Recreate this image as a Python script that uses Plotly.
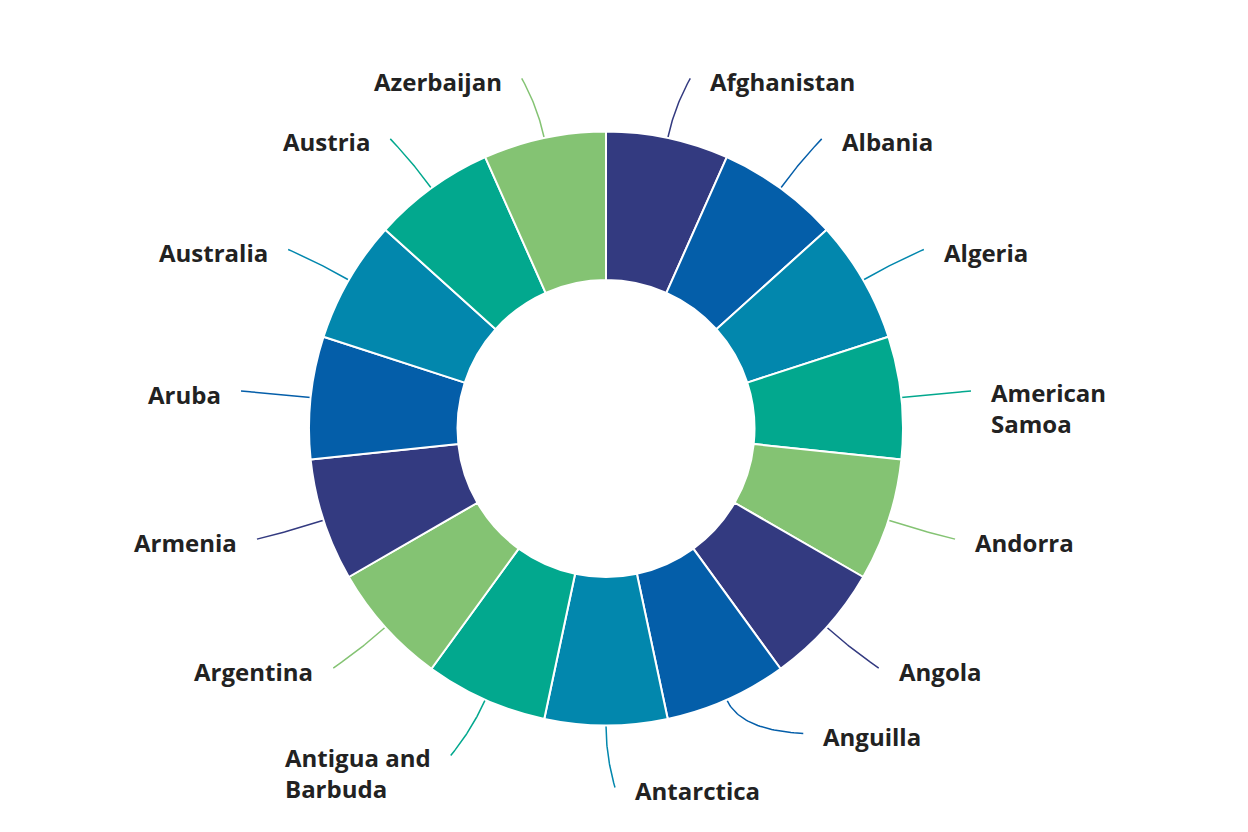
import math
import numpy as np
import plotly.graph_objects as go

# ---------------- data ----------------
countries = [
    "Afghanistan", "Albania", "Algeria", "American Samoa", "Andorra",
    "Angola", "Anguilla", "Antarctica", "Antigua and Barbuda", "Argentina",
    "Armenia", "Aruba", "Australia", "Austria", "Azerbaijan",
]
label_text = [
    "Afghanistan", "Albania", "Algeria", "American<br>Samoa", "Andorra",
    "Angola", "Anguilla", "Antarctica", "Antigua and<br>Barbuda", "Argentina",
    "Armenia", "Aruba", "Australia", "Austria", "Azerbaijan",
]
values = [1, 1, 1, 1, 1, 1, 1, 1, 1, 1, 1, 1, 1, 1, 1]

# ---------------- style ----------------
palette = ["#333a80", "#045ea9", "#0287ad", "#02a88e", "#84c373"]
colors = [palette[i % len(palette)] for i in range(len(countries))]

W, H = 1248, 832
CX, CY = 606.0, 428.5
R_OUT = 297.0
HOLE = 0.5
RX, RY = 367.0, 358.0          # label ring
GAP = 18                       # gap between tick end and text
# small layout nudges of label anchors (px) to mimic collision avoidance
nudge = {
    "Afghanistan": (8, 0),
    "Azerbaijan": (-8, 0),
    "Antarctica": (9, 1),
    "Anguilla": (48, -22),
    "Antigua and Barbuda": (-6, 0),
}

fig = go.Figure()

fig.add_trace(go.Pie(
    labels=countries,
    values=values,
    sort=False,
    direction="clockwise",
    rotation=0,
    hole=HOLE,
    textinfo="none",
    marker=dict(colors=colors, line=dict(color="#ffffff", width=2)),
    domain=dict(x=[(CX - R_OUT) / W, (CX + R_OUT) / W],
                y=[(H - (CY + R_OUT)) / H, (H - (CY - R_OUT)) / H]),
    showlegend=False,
    hoverinfo="label",
))

total = float(sum(values))
cum = 0.0
annotations = []
for name, txt, v, col in zip(countries, label_text, values, colors):
    mid = (cum + v / 2.0) / total * 360.0
    cum += v
    a = math.radians(mid)
    s, c = math.sin(a), math.cos(a)
    sx, sy = CX + R_OUT * s, CY - R_OUT * c
    dx, dy = nudge.get(name, (0, 0))
    ex, ey = CX + RX * s + dx, CY - RY * c + dy
    r_end = math.hypot(ex - CX, ey - CY)
    rc = (R_OUT + r_end) / 2.0
    qx, qy = CX + rc * s, CY - rc * c
    t = np.linspace(0, 1, 40)
    bx = (1 - t) ** 2 * sx + 2 * (1 - t) * t * qx + t ** 2 * ex
    by = (1 - t) ** 2 * sy + 2 * (1 - t) * t * qy + t ** 2 * ey
    fig.add_trace(go.Scatter(x=bx, y=by, mode="lines",
                             line=dict(color=col, width=1.5),
                             hoverinfo="skip", showlegend=False))
    right = mid <= 180.0
    nlines = txt.count("<br>") + 1
    annotations.append(dict(
        x=ex + GAP if right else ex - GAP,
        y=ey + 3 + (nlines - 1) * 14,
        xref="x", yref="y",
        text=txt, showarrow=False,
        xanchor="left" if right else "right",
        yanchor="middle", align="left",
        font=dict(family="Open Sans", size=24, color="#222222", weight=700),
    ))

fig.update_layout(
    width=W, height=H,
    margin=dict(l=0, r=0, t=0, b=0),
    paper_bgcolor="#ffffff", plot_bgcolor="rgba(0,0,0,0)",
    xaxis=dict(range=[0, W], visible=False, fixedrange=True, domain=[0, 1]),
    yaxis=dict(range=[H, 0], visible=False, fixedrange=True, domain=[0, 1]),
    annotations=annotations,
    font=dict(family="Open Sans"),
)

fig.write_html("out.html",
               config={"displayModeBar": False},
               post_script="document.body.style.margin='0';document.body.style.overflow='hidden';")
